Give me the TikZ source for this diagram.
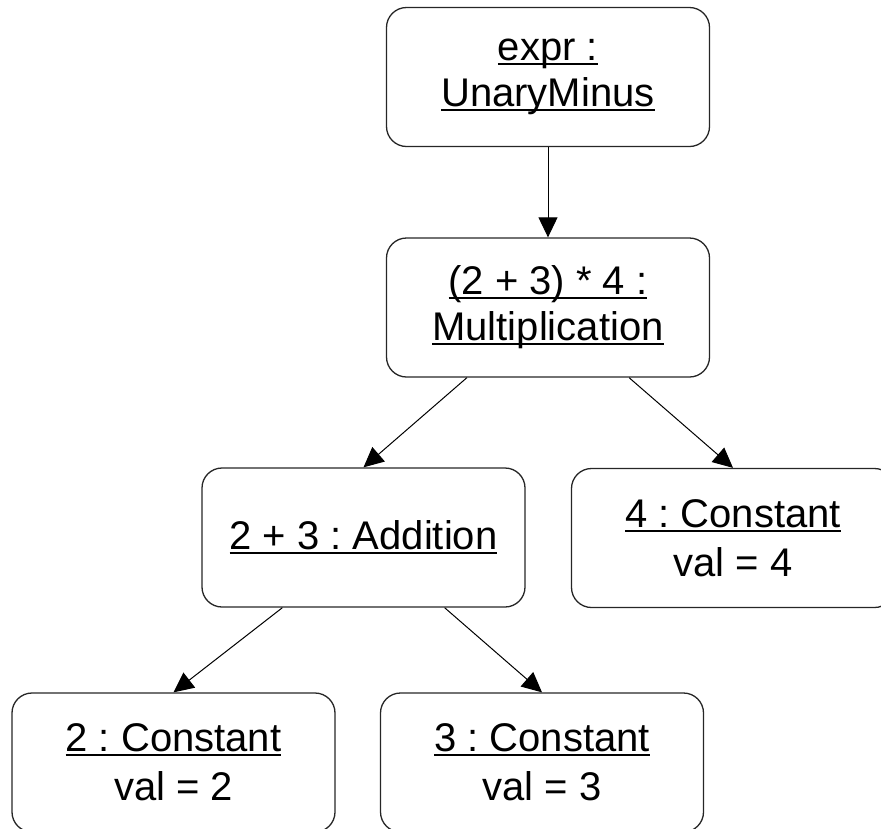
\documentclass[tikz,border=0pt]{standalone}
\usepackage{fontspec}
\setmainfont{Liberation Sans}
\usetikzlibrary{arrows.meta,calc}

% underline at a fixed distance below the baseline
\newcommand\objname[1]{\setbox0\hbox{#1}\rlap{\rule[-4.5pt]{\wd0}{2.2pt}}\box0}

\tikzset{
  obj/.style={draw=black!85, line width=1.3pt, rounded corners=20pt,
    minimum width=323pt, minimum height=139pt, align=center,
    inner sep=0pt, font=\fontsize{40}{46}\selectfont\frenchspacing},
  link/.style={line width=1pt,
    -{Triangle[length=20pt,width=19pt]}}
}

\begin{document}
\begin{tikzpicture}[x=1pt,y=1pt]
  \useasboundingbox (0,0) rectangle (881,-828);
  \clip (0,0) rectangle (881,-828);

  \node[obj] (expr) at (548,-77) {\objname{expr :}\\\objname{UnaryMinus}};
  \node[obj] (mul)  at (548,-307.5) {\objname{(2 + 3) * 4 :}\\\objname{Multiplication}};
  \node[obj] (add)  at (363.5,-537.5) {\objname{2 + 3 : Addition}};
  \node[obj] (c4)   at (733,-538) {\objname{4 : Constant}\\[3pt]val = 4};
  \node[obj] (c2)   at (173.5,-762.5) {\objname{2 : Constant}\\[3pt]val = 2};
  \node[obj] (c3)   at (542,-762.5) {\objname{3 : Constant}\\[3pt]val = 3};

  \draw[link] (expr.south) -- (mul.north);
  \draw[link] ($(mul.south west)!0.25!(mul.south east)$) -- (add.north);
  \draw[link] ($(mul.south west)!0.75!(mul.south east)$) -- (c4.north);
  \draw[link] ($(add.south west)!0.25!(add.south east)$) -- (c2.north);
  \draw[link] ($(add.south west)!0.75!(add.south east)$) -- (c3.north);
\end{tikzpicture}
\end{document}
